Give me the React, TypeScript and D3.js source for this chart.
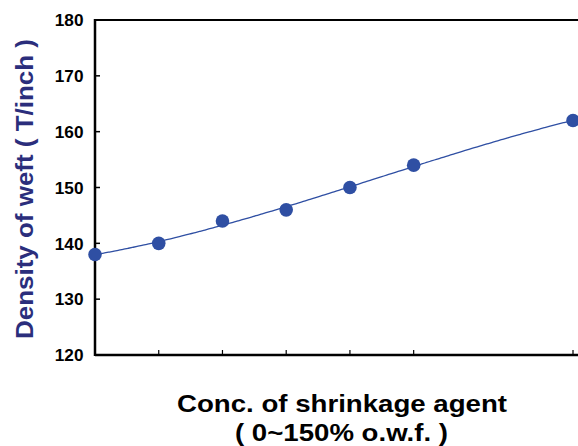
import React from "react";
import * as d3 from "d3";

const concentrations = [0, 20, 40, 60, 80, 100, 150];
const density = [138, 140, 144, 146, 150, 154, 162];
const xTicks = [20, 40, 60, 80, 100, 150];
const yTicks = [120, 130, 140, 150, 160, 170, 180];

// cubic least-squares trendline from the data
function polyFit(xs: number[], ys: number[], order: number): number[] {
  const n = order + 1;
  const s = (v: number) => v / 100;
  const A: number[][] = Array.from({ length: n }, () => new Array(n + 1).fill(0));
  xs.forEach((xv, k) => {
    const xx = s(xv);
    for (let i = 0; i < n; i++) {
      for (let j = 0; j < n; j++) A[i][j] += Math.pow(xx, i + j);
      A[i][n] += Math.pow(xx, i) * ys[k];
    }
  });
  for (let c = 0; c < n; c++) {
    let p = c;
    for (let r = c + 1; r < n; r++) if (Math.abs(A[r][c]) > Math.abs(A[p][c])) p = r;
    [A[c], A[p]] = [A[p], A[c]];
    for (let r = 0; r < n; r++) {
      if (r === c) continue;
      const f = A[r][c] / A[c][c];
      for (let k = c; k <= n; k++) A[r][k] -= f * A[c][k];
    }
  }
  return A.map((row, i) => row[n] / row[i]);
}

export default function App() {
  const W = 578, H = 446;
  const left = 95, right = 573, top = 20, bottom = 355;
  const x = d3.scaleLinear().domain([0, 150]).range([left, right]);
  const y = d3.scaleLinear().domain([120, 180]).range([bottom, top]);
  const coef = polyFit(concentrations, density, 3);
  const f = (c: number) => coef.reduce((acc, a, i) => acc + a * Math.pow(c / 100, i), 0);
  const samples = d3.range(0, 150.01, 1.5);
  const line = d3
    .line<number>()
    .x((c) => x(c))
    .y((c) => y(f(c)))
    .curve(d3.curveBasis)(samples) || "";
  const font = "'Liberation Sans', Arial, sans-serif";
  return (
    <svg width={W} height={H} style={{ position: "absolute", left: 0, top: 0 }}>
      <rect width={W} height={H} fill="#fff" />
      <line x1={left} x2={W} y1={top} y2={top} stroke="#000" strokeWidth={2} />
      <line x1={left} x2={left} y1={top - 1} y2={bottom + 1} stroke="#000" strokeWidth={2.5} />
      <line x1={left} x2={W} y1={bottom} y2={bottom} stroke="#000" strokeWidth={2.5} />
      {yTicks.map((t) => (
        <g key={t}>
          <line x1={left} x2={left + 5} y1={y(t)} y2={y(t)} stroke="#000" strokeWidth={1.5} />
          <text x={83.5} y={y(t) + 6.3} textAnchor="end" fontFamily={font} fontWeight="bold" fontSize={17.2} fill="#000">
            {t}
          </text>
        </g>
      ))}
      {xTicks.map((t) => (
        <line key={t} x1={x(t)} x2={x(t)} y1={bottom} y2={bottom - 5} stroke="#000" strokeWidth={1.2} />
      ))}
      <path d={line} fill="none" stroke="#2f4fa3" strokeWidth={1.3} />
      {concentrations.map((c, i) => (
        <circle key={i} cx={x(c)} cy={y(density[i])} r={6.8} fill="#2f4fa3" />
      ))}
      <text
        transform={`translate(33, 189) rotate(-90)`}
        textAnchor="middle"
        fontFamily={font}
        fontWeight="bold"
        fontSize={24.5}
        fill="#2b2e7c"
        textLength={300}
        lengthAdjust="spacingAndGlyphs"
      >
        Density of weft ( T/inch )
      </text>
      <text
        x={342}
        y={411.5}
        textAnchor="middle"
        fontFamily={font}
        fontWeight="bold"
        fontSize={23}
        fill="#000"
        textLength={330}
        lengthAdjust="spacingAndGlyphs"
      >
        Conc. of shrinkage agent
      </text>
      <text
        x={341.5}
        y={440.5}
        textAnchor="middle"
        fontFamily={font}
        fontWeight="bold"
        fontSize={23}
        fill="#000"
        textLength={213}
        lengthAdjust="spacingAndGlyphs"
      >
        ( 0~150% o.w.f. )
      </text>
    </svg>
  );
}
